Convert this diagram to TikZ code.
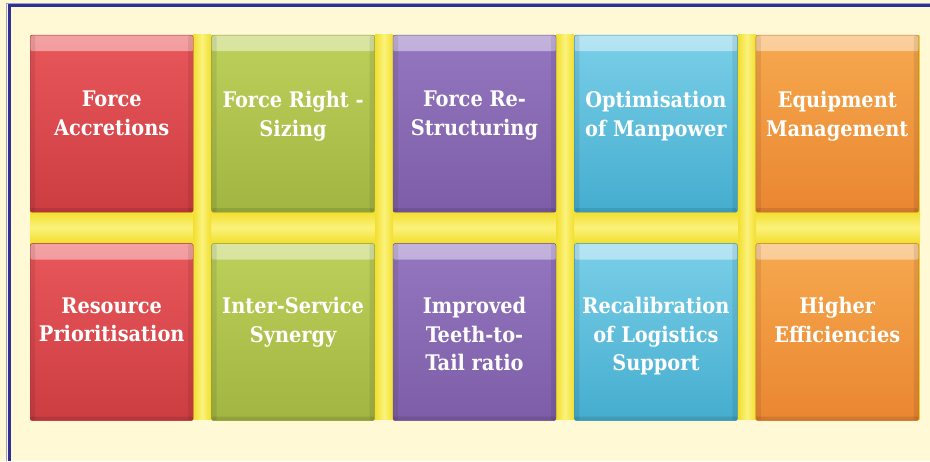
\documentclass[tikz,border=0pt]{standalone}
\usepackage{fontspec}
\setmainfont{DejaVu Serif Condensed}
\usetikzlibrary{positioning}
\definecolor{cream}{HTML}{FFF9D6}
\definecolor{framebl}{HTML}{2E3192}
\definecolor{framelt}{HTML}{9A9FD8}
\definecolor{bandyl}{HTML}{F2DF2E}
\definecolor{bandlt}{HTML}{FBF27C}
\definecolor{redtop}{HTML}{E8575A}
\definecolor{redmid}{HTML}{E04749}
\definecolor{redbot}{HTML}{CC3D42}
\definecolor{grntop}{HTML}{BCD05A}
\definecolor{grnmid}{HTML}{B2C64C}
\definecolor{grnbot}{HTML}{A2B542}
\definecolor{purtop}{HTML}{9477C0}
\definecolor{purmid}{HTML}{8A69B5}
\definecolor{purbot}{HTML}{7D5DA7}
\definecolor{blutop}{HTML}{7ACFE8}
\definecolor{blumid}{HTML}{5DC0DE}
\definecolor{blubot}{HTML}{45ADCF}
\definecolor{orgtop}{HTML}{F6A94E}
\definecolor{orgmid}{HTML}{F39A3E}
\definecolor{orgbot}{HTML}{EA8632}
\tikzset{
    tile/.style={
           rectangle,
           minimum width=163pt, minimum height=177pt,
           inner sep=0pt,
           rounded corners=2pt,
           draw=#1bot!85!black, thin,
           top color=#1top, middle color=#1mid, bottom color=#1bot,
           path picture={
              \shade[top color=#1top!55!white, bottom color=#1top] (path picture bounding box.north west)
                 rectangle ([yshift=-16pt]path picture bounding box.north east);
              \fill[black,opacity=0.08] (path picture bounding box.south west)
                 rectangle ([xshift=5pt]path picture bounding box.north west);
              \fill[black,opacity=0.08] (path picture bounding box.south east)
                 rectangle ([xshift=-5pt]path picture bounding box.north east);
              \fill[black,opacity=0.10] (path picture bounding box.south west)
                 rectangle ([yshift=4pt]path picture bounding box.south east);
           },
           },
}
\tikzset{
    caption/.style={
           text=white,
           font=\bfseries\fontsize{21.5}{28.5}\selectfont,
           align=center,
           inner sep=0pt,
           },
}
\begin{document}
\begin{tikzpicture}[x=1pt,y=1pt]
\useasboundingbox (0,0) rectangle (930,461);
\fill[cream] (0,0) rectangle (930,461);
% frame on top and left
\draw[framelt, line width=1pt] (6.5,0) -- (6.5,457.5) -- (930,457.5);
\draw[framebl, line width=3pt] (9.5,0) -- (9.5,455) -- (930,455);
% yellow grid behind the tiles
\fill[bandyl] (30,41) rectangle (920,426);
\shade[top color=bandyl, bottom color=bandyl, middle color=bandlt] (30,218) rectangle (920,249);
\foreach \gx in {193,375,556,738}
   \shade[left color=bandyl, right color=bandyl, middle color=bandlt] (\gx,41) rectangle (\gx+18,426);

% upper row
\node[tile=red, anchor=north west] (acc) at (30,426) {};
\node[tile=grn, right=18pt of acc] (siz) {};
\node[tile=pur, right=18pt of siz] (str) {};
\node[tile=blu, right=18pt of str] (man) {};
\node[tile=org, right=18pt of man] (equ) {};
% lower row
\node[tile=red, below=31pt of acc] (pri) {};
\node[tile=grn, right=18pt of pri] (syn) {};
\node[tile=pur, right=18pt of syn] (tee) {};
\node[tile=blu, right=18pt of tee] (log) {};
\node[tile=org, right=18pt of log] (eff) {};

\node[caption, below=56pt of acc.north] (tacc) {Force\\Accretions};
\node[caption, below=56pt of siz.north] (tsiz) {Force Right -\\Sizing};
\node[caption, below=56pt of str.north] (tstr) {Force Re-\\Structuring};
\node[caption, below=56pt of man.north] (tman) {Optimisation\\of Manpower};
\node[caption, below=56pt of equ.north] (tequ) {Equipment\\Management};
\node[caption, below=54pt of pri.north] (tpri) {Resource\\Prioritisation};
\node[caption, below=54pt of syn.north] (tsyn) {Inter-Service\\Synergy};
\node[caption, below=54pt of tee.north] (ttee) {Improved\\Teeth-to-\\Tail ratio};
\node[caption, below=54pt of log.north] (tlog) {Recalibration\\of Logistics\\Support};
\node[caption, below=54pt of eff.north] (teff) {Higher\\Efficiencies};
\end{tikzpicture}
\end{document}
